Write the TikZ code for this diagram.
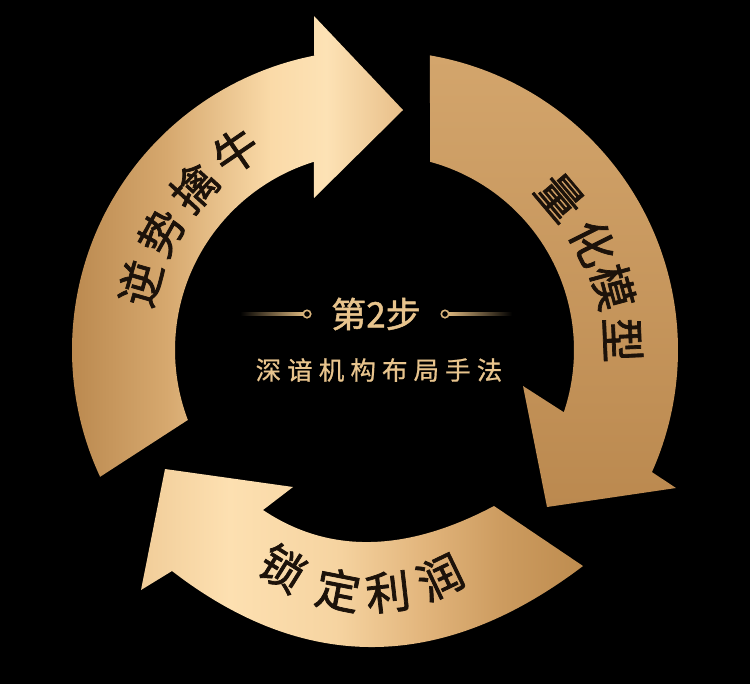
\documentclass[tikz,border=0pt]{standalone}
\usepackage{fontspec}
\usetikzlibrary{calc}
\newfontfamily\cjk{Noto Sans CJK SC}[FakeBold=1.6]
\newfontfamily\cjkst{Noto Sans CJK SC}[FakeBold=1.4]
\newfontfamily\cjkls{Noto Sans CJK SC}[LetterSpace=24, FakeBold=0.7]
\definecolor{gL1}{HTML}{B6844A}
\definecolor{gL2}{HTML}{D6A86E}
\definecolor{gL3}{HTML}{FADAA8}
\definecolor{gL4}{HTML}{FDE2B5}
\definecolor{gL5}{HTML}{E8BF89}
\definecolor{gB1}{HTML}{F1CD99}
\definecolor{gB2}{HTML}{FDE0B1}
\definecolor{gB3}{HTML}{F6D4A1}
\definecolor{gB4}{HTML}{E2B57C}
\definecolor{gB5}{HTML}{CC9B5F}
\definecolor{gB6}{HTML}{BE8C4F}
\definecolor{gRtop}{HTML}{D3A56C}
\definecolor{gRbot}{HTML}{BB894F}
\definecolor{labelc}{HTML}{1C120A}
\definecolor{goldt}{HTML}{E8C48D}
\definecolor{goldline}{HTML}{D9B47C}
\pgfdeclarehorizontalshading{goldL}{100bp}{color(0bp)=(gL1); color(25bp)=(gL1); color(41bp)=(gL2); color(56bp)=(gL3); color(64bp)=(gL4); color(75bp)=(gL5); color(100bp)=(gL5)}
\pgfdeclarehorizontalshading{goldB}{100bp}{color(0bp)=(gB1); color(25bp)=(gB1); color(35bp)=(gB2); color(47bp)=(gB3); color(57bp)=(gB4); color(66bp)=(gB5); color(75bp)=(gB6); color(100bp)=(gB6)}
\begin{document}
\begin{tikzpicture}[x=0.02cm,y=-0.02cm,
  lbl/.style={text=labelc, font=\cjk\fontsize{25.5}{25.5}\selectfont, inner sep=0pt},
  dotc/.style={draw=goldline, line width=0.9pt, fill=black},
  stepc/.style={text=goldt, font=\cjkst\fontsize{20}{20}\selectfont, inner sep=0pt},
  subc/.style={text=goldt, font=\cjkls\fontsize{14.5}{14.5}\selectfont, inner sep=0pt}]
\fill[black] (0,0) rectangle (750,684);
\useasboundingbox (0,0) rectangle (750,684);
\coordinate (cl) at (372,350);
\coordinate (cr) at (379,350);
% left arrow
\shade[shading=goldL] ($(cl)+(155:300)$) arc[start angle=155,end angle=258.9,radius=300]
  -- (314,16) -- (403,110) -- (314,198)
  -- ($(cl)+(252.8:197)$) arc[start angle=252.8,end angle=159.2,radius=197] -- cycle;
% right arrow
\shade[top color=gRtop, bottom color=gRbot] ($(cr)+(-80.2:299)$) arc[start angle=-80.2,end angle=24.1,radius=299]
  -- (676,488) -- (547,507) -- (523,386)
  -- ($(cr)+(18.6:195)$) arc[start angle=18.6,end angle=-74.8,radius=195] -- cycle;
% bottom arrow
\shade[shading=goldB] (494,506) -- (583,566)
  .. controls (442.7,672.3) and (305.7,674) .. (172,571)
  -- (141,590) -- (165,469) -- (293,487) -- (263,510)
  .. controls (328.7,554) and (405.7,552.7) .. (494,506) -- cycle;
% labels
\node[lbl, rotate=74]   (l1) at ($(cl)+(-164:241)$) {逆};
\node[lbl, rotate=60.8] (l2) at ($(cl)+(-150.8:241)$) {势};
\node[lbl, rotate=47.6] (l3) at ($(cl)+(-137.6:241)$) {擒};
\node[lbl, rotate=34.4] (l4) at ($(cl)+(-124.4:241)$) {牛};
\node[lbl, rotate=-49.8] (r1) at (560,197) {量};
\node[lbl, rotate=-63.4] (r2) at (593,243) {化};
\node[lbl, rotate=-74.9] (r3) at (613,287) {模};
\node[lbl, rotate=-87.7] (r4) at (623,340) {型};
\node[lbl, rotate=-32]  (b1) at (283,568) {锁};
\node[lbl, rotate=-11]  (b2) at (338,590) {定};
\node[lbl, rotate=6.5]  (b3) at (388,592) {利};
\node[lbl, rotate=25.7] (b4) at (440,577) {润};
% center
\node[stepc] (step) at (376,314) {第2步};
\node[subc] (sub) at (379,370) {深谙机构布局手法};
\shade[left color=black, right color=goldline] (240,312.8) rectangle (303.5,315.2);
\shade[left color=goldline, right color=black] (448.5,312.8) rectangle (512,315.2);
\node[dotc, circle, minimum size=7.5*0.02cm, inner sep=0pt] (dl) at (307,314) {};
\node[dotc, circle, minimum size=7.5*0.02cm, inner sep=0pt] (dr) at (445,314) {};
\end{tikzpicture}
\end{document}
